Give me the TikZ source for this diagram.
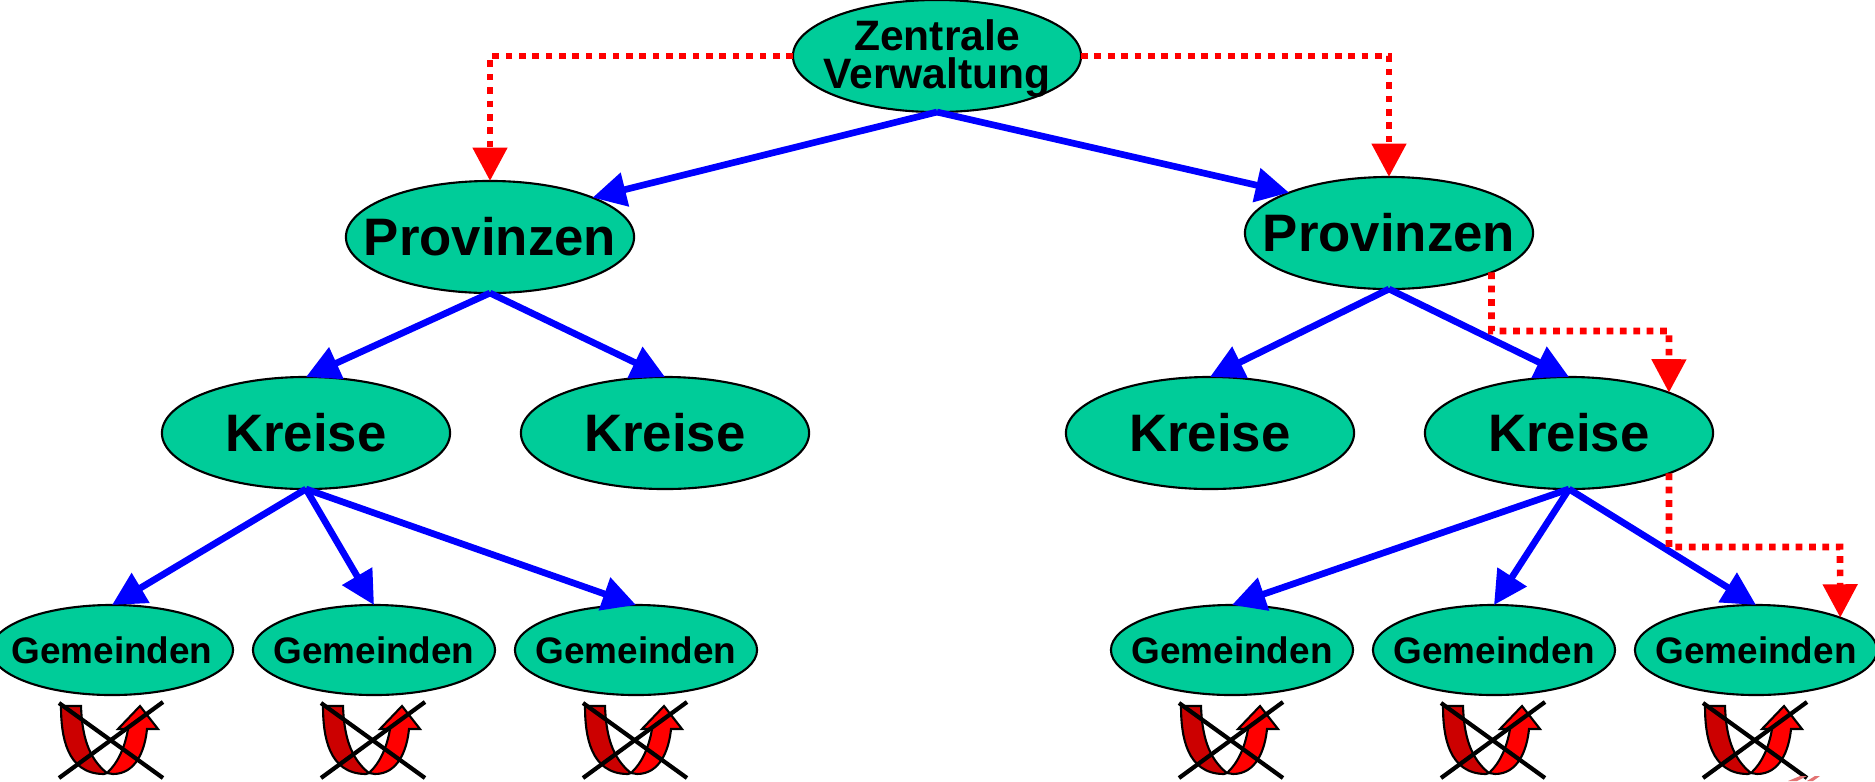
\documentclass[tikz,border=0pt]{standalone}
\usepackage{fontspec}
\setmainfont{Liberation Sans}
\usetikzlibrary{arrows.meta,shapes.geometric}
\definecolor{gruen}{RGB}{0,204,153}
\definecolor{dunkelrot}{RGB}{204,0,0}
\tikzset{
>={Triangle[length=9.5pt,width=9.5pt]},
knoten/.style={ellipse,draw,line width=0.6pt,fill=gruen,inner sep=0pt,outer sep=0pt},
gross/.style={knoten,minimum width=2.88cm,minimum height=1.12cm},
klein/.style={knoten,minimum width=2.42cm,minimum height=0.90cm},
schrift/.style={font=\bfseries\fontsize{#1}{11}\selectfont,align=center,inner sep=0pt},
pfeil/.style={->,blue,line width=1.9pt},
punktiert/.style={->,red,line width=1.9pt,dash pattern=on 1.9pt off 1.9pt},
kreuz/.style={line width=1.2pt},
kringel/.pic={
  \draw[fill=dunkelrot,line width=0.6pt] (-51,56) -- (-31,56) .. controls (-30,85) and (-24,108) .. (-5,123)
    -- (-8,124) .. controls (-46,124) and (-51,85) .. (-51,56) -- cycle;
  \draw[fill=red,line width=0.6pt] (-5,123) .. controls (6,113) and (13,97) .. (16,79) -- (6,79) -- (28,56) -- (46,79) -- (35,79)
    .. controls (33,100) and (24,124) .. (1,124) -- cycle;
  \draw[kreuz] (-53,53) -- (51,128);
  \draw[kreuz] (-53,128) -- (51,52);
}}

\begin{document}
\begin{tikzpicture}[x=0.01cm,y=-0.01cm]
      \useasboundingbox (0,0) rectangle (1875,781);

      \node[gross,label={[schrift=12.1,yshift=-2.5*0.01cm]center:Zentrale\\Verwaltung}] (z) at (937,56) {};
      \node[gross,label={[schrift=15]center:Provinzen}] (p1) at (490,237) {};
      \node[gross,label={[schrift=15]center:Provinzen}] (p2) at (1389,233) {};
      \node[gross,label={[schrift=15]center:Kreise}] (k1) at (306,433) {};
      \node[gross,label={[schrift=15]center:Kreise}] (k2) at (665,433) {};
      \node[gross,label={[schrift=15]center:Kreise}] (k3) at (1210,433) {};
      \node[gross,label={[schrift=15]center:Kreise}] (k4) at (1569,433) {};
      \node[klein,label={[schrift=10.5]center:Gemeinden}] (g1) at (112,650) {};
      \node[klein,label={[schrift=10.5]center:Gemeinden}] (g2) at (374,650) {};
      \node[klein,label={[schrift=10.5]center:Gemeinden}] (g3) at (636,650) {};
      \node[klein,label={[schrift=10.5]center:Gemeinden}] (g4) at (1232,650) {};
      \node[klein,label={[schrift=10.5]center:Gemeinden}] (g5) at (1494,650) {};
      \node[klein,label={[schrift=10.5]center:Gemeinden}] (g6) at (1756,650) {};

      \coordinate (a1) at (1669,331);
      \coordinate (a2) at (1840,547);

      \draw[pfeil] (z.south) -- (p1.21);
      \draw[pfeil] (z.south) -- (p2.158);
      \draw[pfeil] (p1.south) -- (k1.north);
      \draw[pfeil] (p1.south) -- (k2.north);
      \draw[pfeil] (p2.south) -- (k3.north);
      \draw[pfeil] (p2.south) -- (k4.north);
      \draw[pfeil] (k1.south) -- (g1.north);
      \draw[pfeil] (k1.south) -- (g2.north);
      \draw[pfeil] (k1.south) -- (g3.north);
      \draw[pfeil] (k4.south) -- (g4.north);
      \draw[pfeil] (k4.south) -- (g5.north);
      \draw[pfeil] (k4.south) -- (g6.north);

      \draw[punktiert] (z.west) -| (p1.north);
      \draw[punktiert] (z.east) -| (p2.north);
      \draw[punktiert] (p2.-21) |- (a1) -- (k4.22);
      \draw[punktiert] (k4.-22) |- (a2) -- (g6.21);

      \foreach \g in {g1,g2,g3,g4,g5,g6}
        \pic at (\g) {kringel};

      \fill[dunkelrot!55] (1788,781) -- (1800,776) -- (1807,776) -- (1797,781) -- cycle;
      \fill[dunkelrot!55] (1807,781) -- (1815,776) -- (1820,776) -- (1813,781) -- cycle;
\end{tikzpicture}
\end{document}
